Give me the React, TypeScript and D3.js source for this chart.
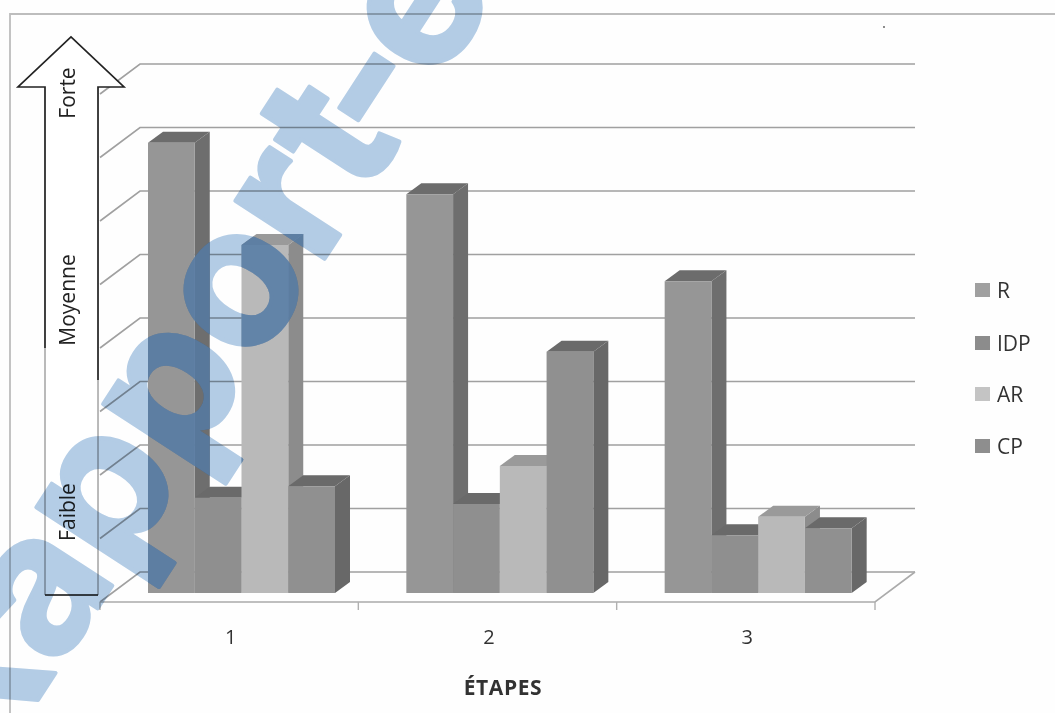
import React from "react";
import * as d3 from "d3";

const categories = ["1", "2", "3"];
const seriesNames = ["R", "IDP", "AR", "CP"];
const valuesR = [7.09, 6.28, 4.91];
const valuesIDP = [1.5, 1.4, 0.91];
const valuesAR = [5.48, 2.0, 1.2];
const valuesCP = [1.68, 3.8, 1.02];
const gridTicks = [0, 1, 2, 3, 4, 5, 6, 7, 8];
const strengthLabels = ["Forte", "Moyenne", "Faible"];

const allValues = [valuesR, valuesIDP, valuesAR, valuesCP];
const faceColors = ["#969696", "#8f8f8f", "#b9b9b9", "#909090"];
const sideColors = ["#6e6e6e", "#666666", "#8c8c8c", "#676767"];
const topColors = ["#6c6c6c", "#6a6a6a", "#9a9a9a", "#6a6a6a"];
const legendColors = ["#a0a0a0", "#8c8c8c", "#c4c4c4", "#8e8e8e"];

const xCat = d3.scaleBand<string>().domain(categories).range([100, 875]);
const xSeries = d3.scaleBand<string>().domain(seriesNames).range([48, 235]);
const yBack = d3.scaleLinear().domain([0, 8]).range([572, 64]);
const yBar = d3.scaleLinear().domain([0, 8]).range([593, 85]);
const depthX = 40, depthY = 30, barDX = 15, barDY = 11;

export default function App() {
  const line = d3.line();
  const barOutlines: string[] = [];
  const bars = categories.map((c, ci) =>
    seriesNames.map((s, si) => {
      const x0 = (xCat(c) ?? 0) + (xSeries(s) ?? 0);
      const x1 = x0 + xSeries.bandwidth();
      const yTop = yBar(allValues[si][ci]);
      const y0 = yBar(0);
      const side = line([[x1, yTop], [x1 + barDX, yTop - barDY], [x1 + barDX, y0 - barDY], [x1, y0]]) + "Z";
      const top = line([[x0, yTop], [x0 + barDX, yTop - barDY], [x1 + barDX, yTop - barDY], [x1, yTop]]) + "Z";
      const face = line([[x0, yTop], [x1, yTop], [x1, y0], [x0, y0]]) + "Z";
      barOutlines.push(side, top, face);
      return (
        <g key={c + s}>
          <path fill={sideColors[si]} d={side} />
          <path fill={topColors[si]} d={top} />
          <path fill={faceColors[si]} d={face} />
        </g>
      );
    })
  );
  return (
    <svg width={1055} height={713} style={{ position: "absolute", left: 0, top: 0, background: "#fefefe" }}
      fontFamily="'Open Sans', sans-serif">
      <defs>
        <filter id="scan" x="-2%" y="-2%" width="104%" height="104%">
          <feGaussianBlur stdDeviation="0.6" />
        </filter>
        <text id="wm" transform="translate(-12,777) rotate(-57)" fontSize={195} fontWeight={700}
          fontFamily="Inter, sans-serif" strokeWidth={4} strokeLinejoin="round">Rapport<tspan dx={-18}>-</tspan><tspan dx={-8}>e</tspan></text>
        <mask id="wmMask" maskUnits="userSpaceOnUse" x={0} y={0} width={1055} height={713}>
          <use href="#wm" fill="#fff" stroke="#fff" />
        </mask>
      </defs>
      <g filter="url(#scan)">
        <path d={line([[1055, 14], [10, 14], [10, 713]]) ?? ""} fill="none" stroke="#bdbdbd" strokeWidth={1.8} />
        <circle cx={884} cy={27} r={0.9} fill="#555" />
        {gridTicks.map((t) => (
          <path key={t} fill="none" stroke="#a0a0a0" strokeWidth={1.6}
            d={line([[100, yBack(t) + depthY], [100 + depthX, yBack(t)], [915, yBack(t)]]) ?? ""} />
        ))}
        <path d={line([[915, 572], [875, 602], [100, 602]]) ?? ""} fill="none" stroke="#ababab" strokeWidth={1.6} />
        {[0, 1, 2, 3].map((i) => {
          const x = 100 + i * xCat.step();
          return <line key={i} x1={x} x2={x} y1={602} y2={610} stroke="#b0b0b0" strokeWidth={1.4} />;
        })}
        {bars}
        <path d="M71 37 L124 87 L98 87 L98 595 L45 595 L45 87 L18 87 Z" fill="#fff" stroke="none" />
        <path d="M98 380 L98 87 L124 87 L71 37 L18 87 L45 87 L45 348" fill="none" stroke="#222" strokeWidth={1.7} />
        <path d="M45 348 L45 595 L98 595 L98 380" fill="none" stroke="#666" strokeWidth={0.9} />
        <line x1={45} x2={98} y1={595} y2={595} stroke="#222" strokeWidth={1.7} />
        {strengthLabels.map((t, i) => (
          <text key={t} transform={`translate(75,${[93, 300, 512][i]}) rotate(-90)`} textAnchor="middle"
            fontSize={21} fontWeight={500} fill="#222">{t}</text>
        ))}
        {categories.map((c) => (
          <text key={c} x={(xCat(c) ?? 0) + xCat.bandwidth() / 2 + 1.5} y={644} textAnchor="middle" fontSize={20} fill="#333">{c}</text>
        ))}
        <text x={503} y={695} textAnchor="middle" fontSize={21} fontWeight={700} fill="#333" letterSpacing={0.6}>ÉTAPES</text>
        {seriesNames.map((s, i) => {
          const y = [290, 343, 394, 446][i];
          return (
            <g key={s}>
              <rect x={975} y={y - 7} width={15} height={14} fill={legendColors[i]} />
              <text x={997} y={y + 7.5} fontSize={21} fill="#333">{s}</text>
            </g>
          );
        })}
      </g>
      <use href="#wm" fill="#b4cde6" stroke="#b4cde6" style={{ mixBlendMode: "multiply" }} />
      <path d={barOutlines.join("")} fill="#5b80a9" opacity={0.8} mask="url(#wmMask)" />
    </svg>
  );
}
